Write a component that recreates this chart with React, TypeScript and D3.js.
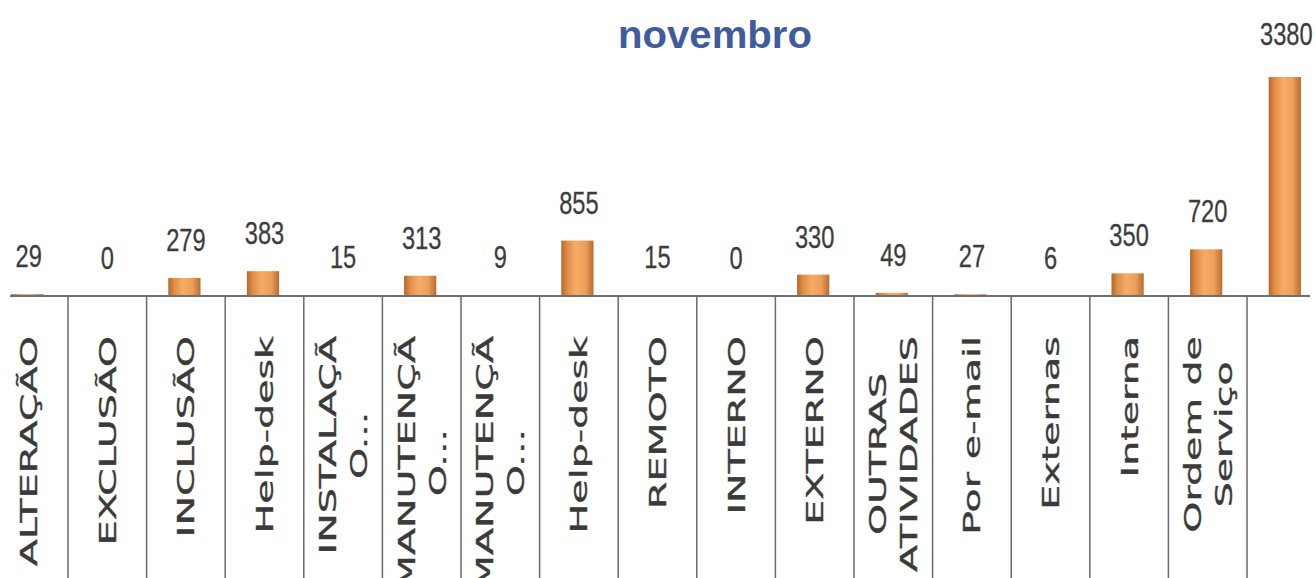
import React, { useEffect, useRef } from "react";
import * as d3 from "d3";

const title = "novembro";
const categoryLines: string[][] = [
  ["ALTERAÇÃO"],
  ["EXCLUSÃO"],
  ["INCLUSÃO"],
  ["Help-desk"],
  ["INSTALAÇÃ", "O..."],
  ["MANUTENÇÃ", "O..."],
  ["MANUTENÇÃ", "O..."],
  ["Help-desk"],
  ["REMOTO"],
  ["INTERNO"],
  ["EXTERNO"],
  ["OUTRAS", "ATIVIDADES"],
  ["Por e-mail"],
  ["Externas"],
  ["Interna"],
  ["Ordem de", "Serviço"],
  [""],
];
const values = [29, 0, 279, 383, 15, 313, 9, 855, 15, 0, 330, 49, 27, 6, 350, 720, 3380];

const W = 1316;
const H = 578;

export default function App() {
  const ref = useRef<SVGSVGElement | null>(null);

  useEffect(() => {
    const svg = d3.select(ref.current);
    svg.selectAll("*").remove();

    const axisY = 296;
    const x = d3
      .scaleBand<number>()
      .domain(d3.range(values.length))
      .range([-10.6, 1325.6])
      .padding(0);
    const y = d3.scaleLinear().domain([0, 3380]).range([axisY, 77]);
    const bw = x.bandwidth();
    const barW = bw * 0.41;

    const defs = svg.append("defs");
    const grad = defs
      .append("linearGradient")
      .attr("id", "barGrad")
      .attr("x1", "0")
      .attr("x2", "1")
      .attr("y1", "0")
      .attr("y2", "0");
    [
      ["0%", "#b5672a"],
      ["18%", "#e08c45"],
      ["45%", "#f5ac68"],
      ["75%", "#ee9e58"],
      ["100%", "#b86c30"],
    ].forEach(([o, c]) => grad.append("stop").attr("offset", o).attr("stop-color", c));

    // title
    svg
      .append("text")
      .attr("x", 715)
      .attr("y", 48)
      .attr("text-anchor", "middle")
      .attr("font-family", "Liberation Sans, Arial, sans-serif")
      .attr("font-weight", "bold")
      .attr("font-size", 38)
      .attr("fill", "#405c9c")
      .attr("textLength", 194)
      .attr("lengthAdjust", "spacingAndGlyphs")
      .text(title);

    // bars
    svg
      .append("g")
      .selectAll("rect")
      .data(values)
      .join("rect")
      .attr("x", (_, i) => (x(i) as number) + (bw - barW) / 2 - 1.5)
      .attr("width", barW)
      .attr("y", (d) => y(d))
      .attr("height", (d) => Math.max(0, axisY - y(d)))
      .attr("fill", "url(#barGrad)");

    // value labels
    svg
      .append("g")
      .selectAll("text")
      .data(values)
      .join("text")
      .attr(
        "transform",
        (d, i) =>
          `translate(${(x(i) as number) + bw / 2},${y(d) - (d > 2000 ? 32 : 27)}) scale(0.74,1)`
      )
      .attr("text-anchor", "middle")
      .attr("font-family", "Liberation Sans, Arial, sans-serif")
      .attr("font-size", 32)
      .attr("fill", "#3c3c3c")
      .attr("stroke", "#3c3c3c")
      .attr("stroke-width", 0.3)
      .text((d) => String(d));

    // axis line
    svg
      .append("line")
      .attr("x1", 10)
      .attr("x2", 1310)
      .attr("y1", axisY)
      .attr("y2", axisY)
      .attr("stroke", "#6e6e6e")
      .attr("stroke-width", 2.2);

    // dividers
    svg
      .append("g")
      .selectAll("line")
      .data(d3.range(1, values.length))
      .join("line")
      .attr("x1", (i) => x(i) as number)
      .attr("x2", (i) => x(i) as number)
      .attr("y1", axisY)
      .attr("y2", H)
      .attr("stroke", "#6a6a6a")
      .attr("stroke-width", 1.5);

    // category labels (rotated, stretched along text direction)
    const stretch = 1.72;
    const lineGap = 31;
    const capH = 17;
    const topY = 336;
    const lg = svg.append("g");
    categoryLines.forEach((lines, i) => {
      const cx = (x(i) as number) + bw / 2;
      const n = lines.length;
      const blockW = capH + (n - 1) * lineGap;
      const texts = lines.map((t, k) => {
        const base = cx - blockW / 2 + capH + k * lineGap;
        return lg
          .append("text")
          .attr("font-family", "DejaVu Sans, Verdana, sans-serif")
          .attr("font-size", 23)
          .attr("fill", "#3a3a3a")
          .attr("stroke", "#3a3a3a")
          .attr("stroke-width", 0.35)
          .attr("text-anchor", "middle")
          .attr("data-base", base)
          .text(t);
      });
      const lens = texts.map((t) => (t.node() as SVGTextElement).getComputedTextLength() * stretch);
      const maxL = d3.max(lens) || 0;
      const centerY = topY + maxL / 2;
      texts.forEach((t) => {
        const base = +t.attr("data-base");
        t.attr("transform", `translate(${base},${centerY}) rotate(-90) scale(${stretch},1)`);
      });
    });
  }, []);

  return (
    <svg
      ref={ref}
      width={W}
      height={H}
      style={{ position: "fixed", left: 0, top: 0, background: "#fff" }}
    />
  );
}
